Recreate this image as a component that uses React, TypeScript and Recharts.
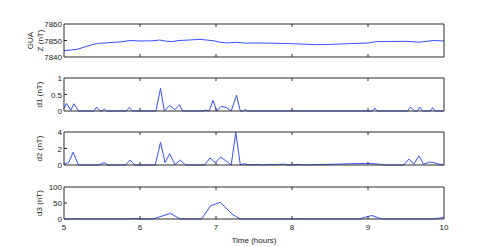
import { LineChart, Line, XAxis, YAxis } from 'recharts';

// GUA Z component (nT)
const guaTimes = [5.0, 5.1, 5.17, 5.3, 5.43, 5.6, 5.75, 5.87, 6.0, 6.15, 6.26, 6.35, 6.43, 6.51, 6.65, 6.79, 6.96, 7.05, 7.14, 7.27, 7.4, 7.53, 7.7, 7.97, 8.15, 8.32, 8.55, 8.76, 9.0, 9.11, 9.3, 9.5, 9.68, 9.86, 10.0];
const guaValues = [7843.8, 7844.3, 7844.6, 7846.5, 7848.2, 7848.7, 7849.2, 7850.0, 7849.7, 7849.8, 7850.3, 7849.5, 7849.4, 7850.0, 7850.3, 7850.7, 7849.9, 7849.0, 7848.5, 7848.9, 7848.4, 7848.5, 7848.4, 7848.1, 7847.8, 7847.5, 7847.7, 7848.1, 7848.5, 7849.3, 7849.4, 7849.5, 7849.0, 7850.0, 7849.7];

const d1Times = [5.0, 5.035, 5.09, 5.13, 5.19, 5.39, 5.43, 5.47, 5.5, 5.53, 5.56, 5.82, 5.86, 5.9, 6.21, 6.27, 6.32, 6.39, 6.46, 6.52, 6.56, 6.84, 6.86, 6.91, 6.96, 7.01, 7.07, 7.14, 7.2, 7.27, 7.32, 7.36, 7.38, 7.41, 9.06, 9.09, 9.12, 9.52, 9.56, 9.61, 9.65, 9.68, 9.72, 9.82, 9.85, 9.88, 10.0];
const d1Values = [0.08, 0.23, 0.02, 0.22, 0, 0, 0.12, 0, 0, 0.06, 0, 0, 0.11, 0, 0, 0.69, 0, 0.17, 0.04, 0.19, 0, 0, 0.03, 0, 0.32, 0, 0.14, 0.1, 0, 0.48, 0, 0, 0.05, 0, 0, 0.09, 0, 0, 0.12, 0, 0, 0.12, 0, 0, 0.1, 0, 0];

const d2Times = [5.0, 5.06, 5.12, 5.19, 5.45, 5.53, 5.58, 5.81, 5.87, 5.93, 6.2, 6.27, 6.33, 6.39, 6.46, 6.53, 6.6, 6.85, 6.92, 6.99, 7.06, 7.13, 7.2, 7.26, 7.32, 7.36, 7.45, 7.54, 7.6, 7.9, 7.95, 8.1, 8.15, 9.0, 9.15, 9.2, 9.47, 9.54, 9.6, 9.67, 9.73, 9.81, 9.86, 9.95, 10.0];
const d2Values = [0.12, 0.28, 1.54, 0, 0, 0.28, 0, 0, 0.6, 0, 0, 2.75, 0.28, 1.37, 0.04, 0.6, 0, 0, 0.85, 0.3, 0.97, 0.5, 0, 3.96, 0, 0.15, 0, 0.05, 0, 0.1, 0, 0.05, 0, 0.2, 0.1, 0, 0, 0.72, 0.1, 1.09, 0.1, 0.35, 0.3, 0.05, 0];

const d3Times = [5.0, 5.85, 5.92, 6.0, 6.17, 6.4, 6.53, 6.81, 6.93, 7.06, 7.21, 7.32, 8.88, 9.05, 9.18, 9.85, 10.0];
const d3Values = [0, 0, 1.5, 0, 0, 17.7, 0, 0, 41.7, 52, 15.6, 0, 0, 11, 0, 0, 5];

const timeTicks = [5, 6, 7, 8, 9, 10];

const W = 491;
const H = 247;
const PLOT_LEFT = 64;
const PLOT_RIGHT = 444;
const AX = 10; // room given to each axis
const BLUE = '#3350ff';
const AXIS = '#2a2a2a';
const FONT = '"Liberation Sans", Arial, sans-serif';

const toRows = (times: number[], values: number[]) => times.map((t, i) => ({ t, v: values[i] }));

const panels = [
  { key: 'gua', rows: toRows(guaTimes, guaValues), domain: [7840, 7860], ticks: [7840, 7850, 7860], label: ['GUA', 'Z (nT)'], top: 24, bottom: 57 },
  { key: 'd1', rows: toRows(d1Times, d1Values), domain: [0, 1], ticks: [0, 0.5, 1], label: ['d1 (nT)'], top: 78, bottom: 111 },
  { key: 'd2', rows: toRows(d2Times, d2Values), domain: [0, 4], ticks: [0, 2, 4], label: ['d2 (nT)'], top: 132, bottom: 165 },
  { key: 'd3', rows: toRows(d3Times, d3Values), domain: [0, 100], ticks: [0, 50, 100], label: ['d3 (nT)'], top: 187, bottom: 219 },
];

const isInner = (v: number, list: number[]) => v !== list[0] && v !== list[list.length - 1];

const App = () => {
  return (
    <div style={{ position: 'absolute', left: 0, top: 0, width: W, height: H, background: '#fff' }}>
      {panels.map((p, idx) => {
        const last = idx === panels.length - 1;
        return (
          <div key={p.key} style={{ position: 'absolute', left: 0, top: 0 }}>
            <LineChart
              width={W}
              height={H}
              data={p.rows}
              margin={{ top: p.top - AX, bottom: H - p.bottom - AX, left: PLOT_LEFT - AX, right: W - PLOT_RIGHT - AX }}
            >
              <XAxis
                xAxisId="bottom"
                dataKey="t"
                type="number"
                domain={[5, 10]}
                ticks={timeTicks}
                interval={0}
                height={AX}
                tickSize={0}
                tickMargin={0}
                stroke={AXIS}
                tickLine={false}
                tick={(t: any) => (
                  <g>
                    {isInner(t.payload.value, timeTicks) && (
                      <line x1={t.x} x2={t.x} y1={t.y} y2={t.y - 3} stroke={AXIS} />
                    )}
                    {last && (
                      <text x={t.x} y={t.y + 11} textAnchor="middle" fontSize={8} fontFamily={FONT} fill="#222">
                        {t.payload.value}
                      </text>
                    )}
                  </g>
                )}
              />
              <XAxis
                xAxisId="top"
                orientation="top"
                dataKey="t"
                type="number"
                domain={[5, 10]}
                ticks={timeTicks}
                interval={0}
                height={AX}
                tickSize={0}
                tickMargin={0}
                stroke={AXIS}
                tickLine={false}
                tick={(t: any) =>
                  isInner(t.payload.value, timeTicks) ? (
                    <line x1={t.x} x2={t.x} y1={t.y} y2={t.y + 3} stroke={AXIS} />
                  ) : (
                    <g />
                  )
                }
              />
              <YAxis
                yAxisId="left"
                type="number"
                domain={p.domain}
                ticks={p.ticks}
                interval={0}
                width={AX}
                tickSize={0}
                tickMargin={0}
                stroke={AXIS}
                tickLine={false}
                tick={(t: any) => (
                  <g>
                    {isInner(t.payload.value, p.ticks) && (
                      <line x1={t.x} x2={t.x + 3} y1={t.y} y2={t.y} stroke={AXIS} />
                    )}
                    <text x={t.x - 2} y={t.y + 3} textAnchor="end" fontSize={8} fontFamily={FONT} fill="#222">
                      {t.payload.value}
                    </text>
                  </g>
                )}
                label={{
                  content: () => {
                    const cy = (p.top + p.bottom) / 2;
                    const x = p.label.length > 1 ? 30 : 39;
                    return (
                      <text
                        transform={`translate(${x}, ${cy}) rotate(-90)`}
                        textAnchor="middle"
                        fontSize={8}
                        fontFamily={FONT}
                        fill="#222"
                      >
                        {p.label.map((s, i) => (
                          <tspan key={s} x={0} dy={i === 0 ? 3 : 9.5}>
                            {s}
                          </tspan>
                        ))}
                      </text>
                    );
                  },
                }}
              />
              <YAxis
                yAxisId="right"
                orientation="right"
                type="number"
                domain={p.domain}
                ticks={p.ticks}
                interval={0}
                width={AX}
                tickSize={0}
                tickMargin={0}
                stroke={AXIS}
                tickLine={false}
                tick={(t: any) =>
                  isInner(t.payload.value, p.ticks) ? (
                    <line x1={t.x} x2={t.x - 3} y1={t.y} y2={t.y} stroke={AXIS} />
                  ) : (
                    <g />
                  )
                }
              />
              <Line
                xAxisId="bottom"
                yAxisId="left"
                type="linear"
                dataKey="v"
                stroke={BLUE}
                strokeWidth={1}
                dot={false}
                isAnimationActive={false}
              />
            </LineChart>
          </div>
        );
      })}
      <div
        style={{
          position: 'absolute',
          left: PLOT_LEFT,
          width: PLOT_RIGHT - PLOT_LEFT,
          top: 236,
          textAlign: 'center',
          fontSize: 8,
          fontFamily: FONT,
          color: '#222',
        }}
      >
        Time (hours)
      </div>
    </div>
  );
};

export default App;
